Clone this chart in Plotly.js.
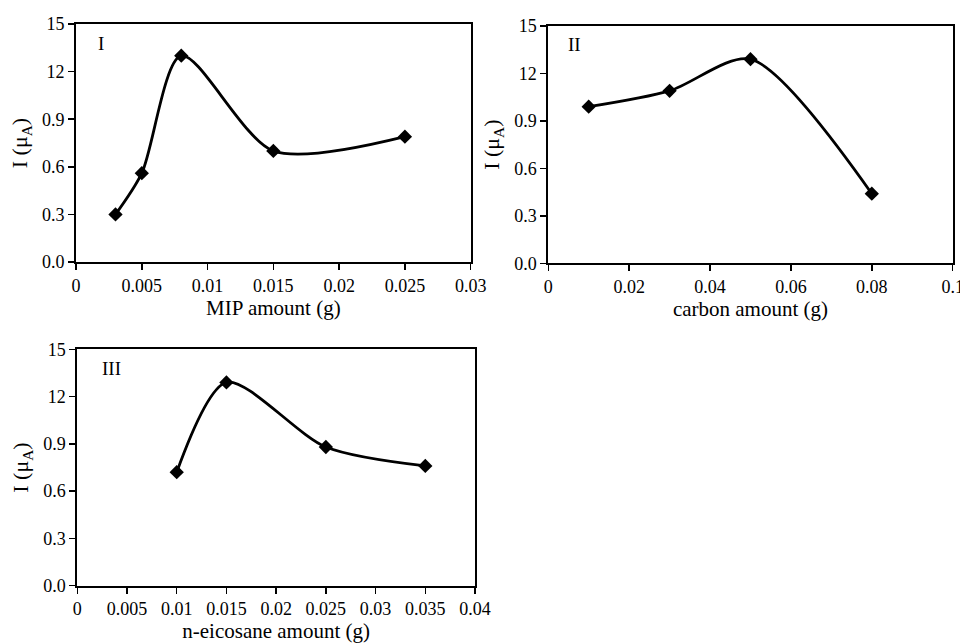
<!DOCTYPE html>
<html><head><meta charset="utf-8">
<script src="https://cdn.plot.ly/plotly-3.0.1.min.js"></script>
<style>html,body{margin:0;padding:0;background:#fff;}#chart{width:960px;height:643px;}</style>
</head><body><div id="chart"></div>
<script>
// Panel I: MIP amount
const mipX = [0.003, 0.005, 0.008, 0.015, 0.025];
const mipY = [0.30, 0.56, 1.30, 0.70, 0.79];
// Panel II: carbon amount
const carbonX = [0.01, 0.03, 0.05, 0.08];
const carbonY = [0.99, 1.09, 1.29, 0.44];
// Panel III: n-eicosane amount
const eicX = [0.01, 0.015, 0.025, 0.035];
const eicY = [0.72, 1.29, 0.88, 0.76];

const yTickVals = [0, 0.3, 0.6, 0.9, 1.2, 1.5];
const yTickText = ["0.0", "0.3", "0.6", "0.9", "12", "15"];
const xTicks1 = [0, 0.005, 0.01, 0.015, 0.02, 0.025, 0.03];
const xTickText1 = ["0", "0.005", "0.01", "0.015", "0.02", "0.025", "0.03"];
const xTicks2 = [0, 0.02, 0.04, 0.06, 0.08, 0.1];
const xTickText2 = ["0", "0.02", "0.04", "0.06", "0.08", "0.1"];
const xTicks3 = [0, 0.005, 0.01, 0.015, 0.02, 0.025, 0.03, 0.035, 0.04];
const xTickText3 = ["0", "0.005", "0.01", "0.015", "0.02", "0.025", "0.03", "0.035", "0.04"];

const FAMILY = 'Liberation Serif';
function f(size) { return {family: FAMILY, size: size, color: '#000'}; }

function trace(x, y, xa, ya) {
  return {x: x, y: y, xaxis: xa, yaxis: ya, type: 'scatter', mode: 'lines+markers',
    line: {shape: 'spline', smoothing: 0.8, color: '#000', width: 2.8},
    marker: {symbol: 'diamond', size: 11, color: '#000'}, showlegend: false, hoverinfo: 'skip'};
}

function xax(domain, range, vals, text, title, anchor) {
  return {domain: domain, range: range, anchor: anchor, tickmode: 'array', tickvals: vals, ticktext: text,
    ticks: 'outside', ticklen: 6, tickwidth: 1.5, tickcolor: '#000', showline: true, linecolor: '#000', linewidth: 2,
    mirror: true, showgrid: false, zeroline: false, tickfont: f(18), ticklabeloverflow: 'allow',
    title: {text: title, font: f(21), standoff: 4}};
}
function yax(domain, anchor) {
  return {domain: domain, range: [0, 1.5], anchor: anchor, tickmode: 'array', tickvals: yTickVals, ticktext: yTickText,
    ticks: 'outside', ticklen: 6, tickwidth: 1.5, tickcolor: '#000', showline: true, linecolor: '#000', linewidth: 2,
    mirror: true, showgrid: false, zeroline: false, tickfont: f(18),
    title: {text: 'I (μ<sub>A</sub>)', font: f(22), standoff: 8}};
}

const data = [
  trace(mipX, mipY, 'x', 'y'),
  trace(carbonX, carbonY, 'x2', 'y2'),
  trace(eicX, eicY, 'x3', 'y3')
];

const layout = {
  width: 960, height: 643,
  margin: {l: 0, r: 0, t: 0, b: 0},
  paper_bgcolor: '#fff', plot_bgcolor: '#fff',
  font: f(18),
  xaxis: xax([0.0792, 0.4903], [0, 0.03], xTicks1, xTickText1, 'MIP amount (g)', 'y'),
  yaxis: yax([0.5925, 0.9627], 'x'),
  xaxis2: xax([0.5711, 0.9924], [0, 0.1], xTicks2, xTickText2, 'carbon amount (g)', 'y2'),
  yaxis2: yax([0.5905, 0.9596], 'x2'),
  xaxis3: xax([0.0805, 0.4948], [0, 0.04], xTicks3, xTickText3, 'n-eicosane amount (g)', 'y3'),
  yaxis3: yax([0.0891, 0.4568], 'x3'),
  annotations: [
    {text: 'I', xref: 'x domain', yref: 'y domain', x: 0.05, y: 0.92, xanchor: 'left', yanchor: 'middle', showarrow: false, font: f(19)},
    {text: 'II', xref: 'x2 domain', yref: 'y2 domain', x: 0.043, y: 0.92, xanchor: 'left', yanchor: 'middle', showarrow: false, font: f(19)},
    {text: 'III', xref: 'x3 domain', yref: 'y3 domain', x: 0.057, y: 0.92, xanchor: 'left', yanchor: 'middle', showarrow: false, font: f(19)}
  ]
};

Plotly.newPlot('chart', data, layout, {staticPlot: true, displayModeBar: false});
</script></body></html>
